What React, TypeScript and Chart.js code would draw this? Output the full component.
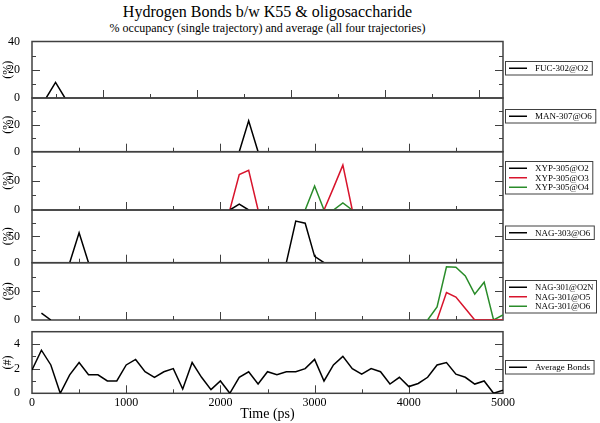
import React, { useEffect, useRef } from 'react';
import { Chart, registerables } from 'chart.js';

Chart.register(...registerables);

const FONT = '"Liberation Serif", "Times New Roman", serif';
const W = 600;
const H = 423;
const PLOT_LEFT = 32;
const PLOT_RIGHT = 503;

const BLACK = '#000000';
const RED = '#d8142c';
const GREEN = '#2a8c2a';

// ---- data ----
const fucTime = [400, 500, 600];
const fucO2 = [0, 11, 0];

const manTime = [2200, 2300, 2400];
const manO6 = [0, 23, 0];

const xypO2Time = [2100, 2200, 2300];
const xypO2 = [0, 10, 0];
const xypO3Time = [2100, 2200, 2300, 2400, 2500, 3100, 3200, 3300, 3400];
const xypO3 = [0, 61, 68, 0, null, 0, 38, 77, 0];
const xypO4Time = [2900, 3000, 3100, 3200, 3300, 3400];
const xypO4 = [0, 41, 0, 0, 12, 0];

const nag303Time = [400, 500, 600, 650, 2700, 2800, 2900, 3000, 3100];
const nag303O6 = [0, 57, 0, null, 0, 79, 75, 12, 0];

const nag301O2NTime = [100, 200];
const nag301O2N = [12, 0];
const nag301O5Time = [4300, 4400, 4500, 4600, 4700, 4800, 4900, 5000];
const nag301O5 = [0, 48, 40, 20, 0, 0, 0, 0];
const nag301O6Time = [4200, 4300, 4400, 4500, 4600, 4700, 4800, 4900, 5000];
const nag301O6 = [0, 23, 93, 92, 77, 45, 66, 0, 9];

const avgTime = [
  0, 100, 200, 300, 400, 500, 600, 700, 800, 900,
  1000, 1100, 1200, 1300, 1400, 1500, 1600, 1700, 1800, 1900,
  2000, 2100, 2200, 2300, 2400, 2500, 2600, 2700, 2800, 2900,
  3000, 3100, 3200, 3300, 3400, 3500, 3600, 3700, 3800, 3900,
  4000, 4100, 4200, 4300, 4400, 4500, 4600, 4700, 4800, 4900, 5000,
];
const avgBonds = [
  1.9, 3.5, 2.3, 0, 1.5, 2.5, 1.5, 1.5, 1.0, 1.0,
  2.3, 2.75, 1.75, 1.3, 1.75, 2.0, 0.35, 2.5, 1.3, 0.3,
  1.0, 0, 1.3, 1.75, 0.75, 1.75, 1.5, 1.75, 1.75, 2.0,
  2.75, 1.0, 2.3, 3.0, 2.0, 1.55, 2.0, 1.75, 0.75, 1.3,
  0.55, 0.8, 1.3, 2.3, 2.5, 1.55, 1.3, 0.75, 1.0, 0, 0.25,
];

const xTickLabels = [0, 1000, 2000, 3000, 4000, 5000];

type Series = { label: string; color: string; t: number[]; v: (number | null)[] };
type Panel = {
  top: number; bottom: number; xMin: number; xMax: number;
  yMax: number; major: number; minor: number; hideTop: boolean;
  ylabel: string; showX: boolean; legendTop: number; series: Series[];
};

const panels: Panel[] = [
  {
    top: 41.5, bottom: 98, xMin: 250, xMax: 5250, yMax: 40, major: 20, minor: 10, hideTop: false,
    ylabel: '(%)', showX: false, legendTop: 61.5,
    series: [{ label: 'FUC-302@O2', color: BLACK, t: fucTime, v: fucO2 }],
  },
  {
    top: 98, bottom: 151.7, xMin: 0, xMax: 5000, yMax: 40, major: 20, minor: 10, hideTop: true,
    ylabel: '(%)', showX: false, legendTop: 109.5,
    series: [{ label: 'MAN-307@O6', color: BLACK, t: manTime, v: manO6 }],
  },
  {
    top: 151.7, bottom: 210, xMin: 0, xMax: 5000, yMax: 100, major: 50, minor: 25, hideTop: true,
    ylabel: '(%)', showX: false, legendTop: 161.5,
    series: [
      { label: 'XYP-305@O2', color: BLACK, t: xypO2Time, v: xypO2 },
      { label: 'XYP-305@O3', color: RED, t: xypO3Time, v: xypO3 },
      { label: 'XYP-305@O4', color: GREEN, t: xypO4Time, v: xypO4 },
    ],
  },
  {
    top: 210, bottom: 262.7, xMin: 0, xMax: 5000, yMax: 100, major: 50, minor: 25, hideTop: true,
    ylabel: '(%)', showX: false, legendTop: 226,
    series: [{ label: 'NAG-303@O6', color: BLACK, t: nag303Time, v: nag303O6 }],
  },
  {
    top: 262.7, bottom: 320, xMin: 0, xMax: 5000, yMax: 100, major: 50, minor: 25, hideTop: true,
    ylabel: '(%)', showX: false, legendTop: 280.5,
    series: [
      { label: 'NAG-301@O2N', color: BLACK, t: nag301O2NTime, v: nag301O2N },
      { label: 'NAG-301@O5', color: RED, t: nag301O5Time, v: nag301O5 },
      { label: 'NAG-301@O6', color: GREEN, t: nag301O6Time, v: nag301O6 },
    ],
  },
  {
    top: 331.7, bottom: 393.3, xMin: 0, xMax: 5000, yMax: 5, major: 2, minor: 1, hideTop: false,
    ylabel: '(#)', showX: true, legendTop: 360.5,
    series: [{ label: 'Average Bonds', color: BLACK, t: avgTime, v: avgBonds }],
  },
];

function makeDecor(p: Panel) {
  return {
    id: 'decor',
    beforeDatasetsDraw(chart: any) {
      const { ctx, chartArea: a, scales } = chart;
      const x = scales.x;
      const y = scales.y;
      ctx.save();
      ctx.strokeStyle = '#404040';
      ctx.lineWidth = 1.5;
      ctx.strokeRect(a.left, a.top, a.right - a.left, a.bottom - a.top);
      ctx.lineWidth = 1;
      ctx.beginPath();
      for (let v = Math.ceil(x.min / 500) * 500; v <= x.max; v += 500) {
        if (v === x.min || v === x.max) continue;
        const px = Math.round(x.getPixelForValue(v)) + 0.5;
        const len = v % 1000 === 0 ? 8 : 4;
        ctx.moveTo(px, a.bottom);
        ctx.lineTo(px, a.bottom - len);
      }
      for (let v = p.minor; v < p.yMax; v += p.minor) {
        const py = Math.round(y.getPixelForValue(v)) + 0.5;
        const len = v % p.major === 0 ? 8 : 4;
        ctx.moveTo(a.left, py);
        ctx.lineTo(a.left + len, py);
        ctx.moveTo(a.right, py);
        ctx.lineTo(a.right - len, py);
      }
      ctx.stroke();
      ctx.restore();
    },
    afterDraw(chart: any) {
      const { ctx, chartArea: a, scales } = chart;
      ctx.save();
      // x tick labels and title (bottom panel only)
      if (p.showX) {
        const x = scales.x;
        ctx.fillStyle = '#000';
        ctx.textAlign = 'center';
        ctx.textBaseline = 'middle';
        ctx.font = `12px ${FONT}`;
        xTickLabels.forEach((v) => {
          ctx.fillText(String(v), x.getPixelForValue(v), a.bottom + 10);
        });
        ctx.font = `14px ${FONT}`;
        ctx.fillText('Time (ps)', (a.left + a.right) / 2, a.bottom + 21.5);
      }
      // legend box
      ctx.font = `9px ${FONT}`;
      const rowH = 9.5;
      const textX = 535;
      let maxW = 0;
      p.series.forEach((s) => { maxW = Math.max(maxW, ctx.measureText(s.label).width); });
      const boxL = 505.5;
      const boxR = Math.min(textX + maxW + 4, 596.5);
      const top = p.legendTop;
      const h = 4 + p.series.length * rowH;
      ctx.strokeStyle = '#404040';
      ctx.lineWidth = 1;
      ctx.strokeRect(boxL, top, boxR - boxL, h);
      ctx.textBaseline = 'middle';
      ctx.textAlign = 'left';
      p.series.forEach((s, i) => {
        const cy = top + 2 + rowH / 2 + i * rowH;
        ctx.strokeStyle = s.color;
        ctx.lineWidth = 1.5;
        ctx.beginPath();
        ctx.moveTo(509, cy);
        ctx.lineTo(527, cy);
        ctx.stroke();
        ctx.fillStyle = '#000';
        ctx.fillText(s.label, textX, cy + 0.5, boxR - textX - 3);
      });
      ctx.restore();
    },
  };
}

function PanelChart({ p }: { p: Panel }) {
  const ref = useRef<HTMLCanvasElement | null>(null);
  useEffect(() => {
    if (!ref.current) return;
    const chart = new Chart(ref.current, {
      type: 'line',
      data: {
        datasets: p.series.map((s) => ({
          label: s.label,
          data: s.t.map((t, i) => ({ x: t, y: s.v[i] })),
          borderColor: s.color,
          borderWidth: 1.5,
          pointRadius: 0,
          fill: false,
          tension: 0,
          spanGaps: false,
        })),
      } as any,
      options: {
        animation: false,
        responsive: false,
        devicePixelRatio: 1,
        events: [],
        layout: {
          padding: { top: p.top, bottom: H - p.bottom, left: 0, right: W - PLOT_RIGHT },
        },
        plugins: { legend: { display: false }, tooltip: { enabled: false }, title: { display: false } },
        scales: {
          x: {
            type: 'linear',
            min: p.xMin,
            max: p.xMax,
            display: false,
          },
          y: {
            type: 'linear',
            min: 0,
            max: p.yMax,
            grid: { display: false },
            border: { display: false },
            ticks: {
              stepSize: p.major,
              includeBounds: false,
              font: { family: FONT, size: 12 },
              color: '#000',
              padding: 4,
              callback: (v: any) => (p.hideTop && Number(v) === p.yMax ? '' : String(v)),
            },
            title: {
              display: true,
              text: p.ylabel,
              font: { family: FONT, size: 12 },
              color: '#000',
              padding: { top: 0.5, bottom: 0 },
            },
            afterFit: (s: any) => { s.width = PLOT_LEFT; },
          },
        },
      } as any,
      plugins: [makeDecor(p)],
    });
    return () => chart.destroy();
  }, [p]);
  return (
    <canvas
      ref={ref}
      width={W}
      height={H}
      style={{ position: 'absolute', left: 0, top: 0, width: W, height: H }}
    />
  );
}

export default function App() {
  return (
    <div style={{ position: 'absolute', left: 0, top: 0, width: W, height: H, background: '#fff', overflow: 'hidden' }}>
      <div
        style={{
          position: 'absolute', left: 0, top: 3, width: (PLOT_LEFT + PLOT_RIGHT), textAlign: 'center',
          fontFamily: FONT, fontSize: 16, lineHeight: '18px', color: '#000', whiteSpace: 'nowrap',
        }}
      >
        Hydrogen Bonds b/w K55 &amp; oligosaccharide
      </div>
      <div
        style={{
          position: 'absolute', left: 0, top: 21, width: (PLOT_LEFT + PLOT_RIGHT), textAlign: 'center',
          fontFamily: FONT, fontSize: 12, lineHeight: '14px', color: '#000', whiteSpace: 'nowrap',
        }}
      >
        % occupancy (single trajectory) and average (all four trajectories)
      </div>
      {panels.map((p, i) => (
        <PanelChart key={i} p={p} />
      ))}
    </div>
  );
}
